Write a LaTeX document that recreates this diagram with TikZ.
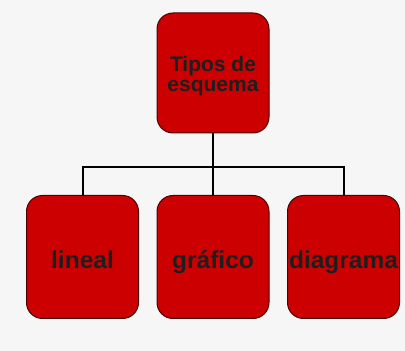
\documentclass[tikz,border=0pt]{standalone}
\usepackage{fontspec}
\setmainfont{Liberation Sans}
\usepackage{xcolor}
\definecolor{boxred}{HTML}{CC0000}
\definecolor{boxedge}{HTML}{4A0000}
\definecolor{paper}{HTML}{F6F6F6}
\definecolor{ink}{HTML}{1E1E1E}

\tikzset{
  tipo/.style={draw=boxedge, line width=1pt, fill=boxred, rounded corners=16pt,
    minimum width=112pt, minimum height=123pt, inner sep=0pt,
    text=ink, font=\bfseries\fontsize{24.5}{25}\selectfont, align=center,
    text height=24pt, text depth=0pt},
  rama/.style={line width=2pt, black},
}

\begin{document}
\begin{tikzpicture}[x=1pt, y=1pt]
\fill[paper] (0,0) rectangle (405,351);

\node[tipo, minimum height=120pt, text height=38pt, text depth=0pt,
  font=\bfseries\fontsize{21}{20}\selectfont] (raiz) at (213,278) {Tipos de\\esquema};

\coordinate (bus) at (213,184);

\node[tipo] (lineal) at (82.5,94) {lineal};
\node[tipo] (grafico) at (213,94) {gráfico};
\node[tipo] (diagrama) at (343.5,94) {diagrama};

\draw[rama] (raiz.south) -- (bus);
\draw[rama] (bus) -| (lineal.north);
\draw[rama] (bus) -- (grafico.north);
\draw[rama] (bus) -| (diagrama.north);

\end{tikzpicture}
\end{document}
